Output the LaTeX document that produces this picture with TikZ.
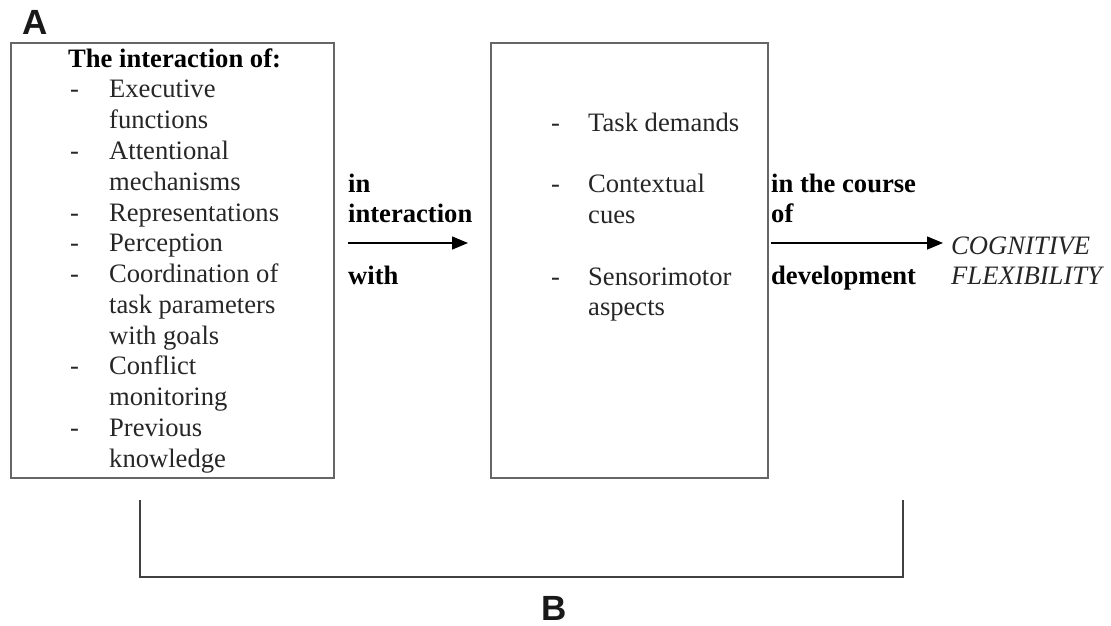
\documentclass[tikz,border=0pt]{standalone}
\usepackage{fontspec}
\setmainfont{Liberation Serif}
\newfontfamily\labfont{Liberation Sans}
\usetikzlibrary{arrows.meta}
\tikzset{
  box/.style={draw=black!60, line width=1.6pt, inner sep=0pt},
  txt/.style={inner sep=0pt, anchor=base west, text=black!85,
    font=\fontsize{26.6}{30.8}\selectfont},
  boldtxt/.style={txt, text=black, font=\fontsize{26.6}{30.8}\selectfont\bfseries},
  itxt/.style={txt, font=\fontsize{26.6}{30.8}\selectfont\itshape},
  panel/.style={inner sep=0pt, anchor=base, text=black!90, font=\labfont\bfseries\fontsize{35}{35}\selectfont},
  arr/.style={line width=1.5pt, -{Triangle[length=16pt,width=13pt]}},
  brk/.style={line width=1.8pt, draw=black!75}
}
\newcommand{\dashA}{\makebox[41pt][l]{\hspace*{2pt}-}}
\newcommand{\dashB}{\makebox[39pt][l]{\hspace*{2pt}-}}
\newcommand{\noDashA}{\hspace*{41pt}}
\newcommand{\noDashB}{\hspace*{39pt}}
\begin{document}
\begin{tikzpicture}[x=1pt,y=-1pt]
\useasboundingbox (0,0) rectangle (1111,626);
% panel labels
\node[panel] (labA) at (35,35) {A};
\node[panel] (labB) at (554,620) {B};
% boxes
\node[box, minimum width=323pt, minimum height=435pt, anchor=north west] (leftbox) at (10,42) {};
\node[box, minimum width=277pt, minimum height=435pt, anchor=north west] (midbox) at (490,42) {};
% left list
\node[txt] (leftlist) at (68,67) {\begin{tabular}[t]{@{}l@{}}
\textbf{\color{black}The interaction of:}\\
\dashA Executive\\
\noDashA functions\\
\dashA Attentional\\
\noDashA mechanisms\\
\dashA Representations\\
\dashA Perception\\
\dashA Coordination of\\
\noDashA task parameters\\
\noDashA with goals\\
\dashA Conflict\\
\noDashA monitoring\\
\dashA Previous\\
\noDashA knowledge
\end{tabular}};
% middle list
\node[txt] (midlist) at (549,131) {\begin{tabular}[t]{@{}l@{}}
\dashB Task demands\\
\\
\dashB Contextual\\
\noDashB cues\\
\\
\dashB Sensorimotor\\
\noDashB aspects
\end{tabular}};
% connector labels
\node[boldtxt] (lab1) at (348,192) {\begin{tabular}[t]{@{}l@{}}in\\ interaction\\ \\ with\end{tabular}};
\node[boldtxt] (lab2) at (771,192) {\begin{tabular}[t]{@{}l@{}}in the course\\ of\\ \\ development\end{tabular}};
\node[itxt] (result) at (951,254) {\begin{tabular}[t]{@{}l@{}}COGNITIVE\\ FLEXIBILITY\end{tabular}};
% arrows
\coordinate (a1s) at (348,243);
\coordinate (a1e) at (468,243);
\coordinate (a2s) at (771,243);
\coordinate (a2e) at (943,243);
\draw[arr] (a1s) -- (a1e);
\draw[arr] (a2s) -- (a2e);
% bracket
\coordinate (bl) at (140,500);
\coordinate (br) at (903,500);
\draw[brk] (bl) -- (140,577) -- (903,577) -- (br);
\end{tikzpicture}
\end{document}
